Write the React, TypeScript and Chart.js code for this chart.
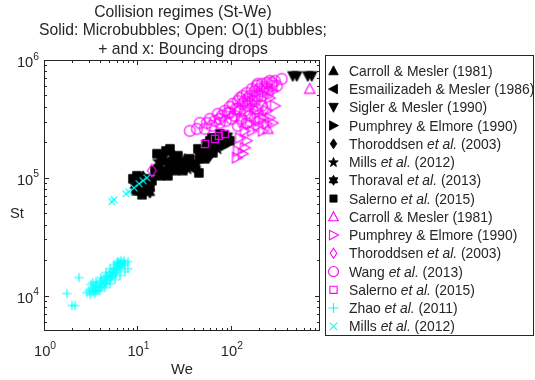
import React, { useEffect, useRef } from "react";
import { Chart, registerables } from "chart.js";
Chart.register(...registerables);

// ---------------- Data (We, St) ----------------
// Solid markers: microbubbles (black)
const carrollSolidWe = [17.4, 32.2, 65.8];
const carrollSolidSt = [126000, 145000, 206000];
const esmailWe = [12.6, 21.2, 42.2, 80.1];
const esmailSt = [90800, 139000, 115000, 214000];
const siglerWe = [25.8, 460, 508, 666, 735];
const siglerSt = [134000, 731000, 731000, 731000, 731000];
const pumphreySolidWe = [18.7, 46.6, 86.3];
const pumphreySolidSt = [154000, 139000, 187000];
const thoroddsenSolidWe = [11.5, 23.4, 59.6];
const thoroddsenSolidSt = [102000, 163000, 154000];
const millsSolidWe = [10.1, 16.6, 34.7, 72.6];
const millsSolidSt = [94400, 139000, 119000, 176000];
const thoravalWe = [9.4, 13.6, 19.7, 38.3, 92.9];
const thoravalSt = [85600, 74600, 110000, 134000, 227000];
const salernoSolidWe = [10.6, 11.7, 15.4, 20.2, 22.3, 28.5, 50.2, 55.4, 62.7, 76.3, 9.88, 14.3, 25.2, 52.7, 67.4, 97.6, 44.4, 17.4, 12.9,
  8.95, 9.64, 11.2, 12.3, 13.6, 10.6, 16.2, 18.3, 21.2, 24.0, 27.1, 22.3, 18.7, 16.6, 30.7, 36.4, 41.2, 45.5, 33.0,
  46.6, 54.0, 59.6, 70.8, 82.1, 90.6, 64.2, 56.8, 84.2];
const salernoSolidSt = [77600, 84000, 115000, 169000, 122000, 131000, 169000, 194000, 218000, 236000, 104000, 94400, 115000, 145000, 187000, 206000, 176000, 104000, 80700,
  98100, 77600, 71800, 98100, 84000, 89000, 160000, 115000, 104000, 139000, 154000, 176000, 139000, 119000, 115000, 145000, 126000, 110000, 131000,
  154000, 169000, 206000, 218000, 198000, 206000, 163000, 180000, 227000];

// Open markers: O(1) bubbles (magenta)
const carrollOpenWe = [700, 249];
const carrollOpenSt = [568000, 260000];
const pumphreyOpenWe = [116, 119, 134, 141, 148, 125, 220, 243, 261, 281, 220, 190, 160, 243, 261, 281, 168, 194, 141, 181, 204, 296];
const pumphreyOpenSt = [148000, 169000, 160000, 180000, 206000, 218000, 250000, 287000, 322000, 292000, 322000, 349000, 287000, 370000, 476000, 546000, 250000, 276000, 250000, 385000, 304000, 408000];
const thoroddsenOpenWe = [14.3, 125, 231];
const thoroddsenOpenSt = [115000, 304000, 385000];
const wangWe = [36.4, 43.3, 46.6, 55.4, 59.6, 67.4, 72.6, 80.1, 86.3, 92.9, 97.6, 105, 113, 119, 125, 134, 141, 148, 160, 168, 181, 190, 204, 215, 231, 243, 261, 296, 351, 275, 194, 152, 110, 88.4, 141, 168, 215, 52.7, 62.7, 76.3, 102, 125, 160, 249, 311, 181,
  119, 134, 181, 215, 97.6, 76.3, 152, 243, 275, 194, 131, 160, 185, 215, 119, 148, 181];
const wangSt = [250000, 260000, 292000, 292000, 316000, 304000, 349000, 335000, 370000, 356000, 400000, 424000, 385000, 449000, 476000, 495000, 449000, 525000, 495000, 568000, 546000, 603000, 568000, 627000, 590000, 639000, 664000, 664000, 690000, 603000, 495000, 408000, 335000, 304000, 370000, 449000, 495000, 260000, 276000, 292000, 316000, 370000, 424000, 525000, 603000, 449000,
  385000, 424000, 495000, 546000, 356000, 316000, 467000, 568000, 639000, 627000, 316000, 335000, 385000, 408000, 276000, 292000, 316000];
const salernoOpenWe = [52.7, 67.4, 74.4, 86.3];
const salernoOpenSt = [194000, 214000, 227000, 236000];

// Bouncing drops (cyan)
const zhaoWe = [1.76, 2.37, 1.99, 2.15, 3.34, 7.91, 6.04, 2.88, 3.03, 3.1, 3.26, 3.34, 3.51, 3.6, 3.69, 3.87, 3.97, 4.07, 4.17, 4.27, 4.38, 4.49, 4.6, 4.72, 4.84, 4.96, 5.08, 5.21, 5.34, 5.47, 5.61, 5.74, 5.89, 6.04, 6.18, 6.34, 6.5, 6.66, 6.83, 7.0, 7.17, 7.35, 6.66, 6.34, 3.78, 3.43, 4.6, 5.34, 5.89,
  3.18, 3.6, 4.07, 4.6, 5.08, 5.61, 6.18, 3.51, 3.97, 4.49, 5.08, 5.74, 6.5, 7.35, 7.91];
const zhaoSt = [10400, 14200, 8230, 8230, 12900, 19400, 19000, 10600, 11000, 10200, 11500, 10800, 11900, 11000, 12400, 11700, 12900, 11900, 13400, 12400, 13900, 12900, 14500, 13400, 14800, 13900, 15400, 14200, 16000, 15100, 16600, 15700, 17300, 16300, 18000, 16900, 18700, 17600, 19000, 18000, 19800, 18700, 19800, 19000, 11000, 11200, 12600, 14500, 15400,
  12400, 13100, 14200, 15700, 16900, 18300, 19400, 10400, 11000, 11700, 12600, 13700, 14800, 16000, 16900];
const millsOpenWe = [5.34, 5.61, 7.54, 8.11, 9.18, 10.4, 11.5, 12.6];
const millsOpenSt = [62700, 65100, 73200, 76000, 82200, 89000, 94400, 100000];

// Axis settings and text
const xMin = 1;
const xMax = 900;
const yMin = 5000;
const yMax = 1000000;
const xMajorTicks = [1, 10, 100];
const xTickExponents = ["0", "1", "2"];
const yMajorTicks = [10000, 100000, 1000000];
const yTickExponents = ["4", "5", "6"];
const titleLines = [
  "Collision regimes (St-We)",
  "Solid: Microbubbles; Open: O(1) bubbles;",
  "+ and x: Bouncing drops",
];
const xLabel = "We";
const yLabel = "St";

const legendLabels = [
  "Carroll & Mesler (1981)",
  "Esmailizadeh & Mesler (1986)",
  "Sigler & Mesler (1990)",
  "Pumphrey & Elmore (1990)",
  "Thoroddsen *et al.* (2003)",
  "Mills *et al.* (2012)",
  "Thoraval *et al.* (2013)",
  "Salerno *et al.* (2015)",
  "Carroll & Mesler (1981)",
  "Pumphrey & Elmore (1990)",
  "Thoroddsen *et al.* (2003)",
  "Wang *et al.* (2013)",
  "Salerno *et al.* (2015)",
  "Zhao *et al.* (2011)",
  "Mills *et al.* (2012)",
];

const FONT = '"Liberation Sans", Arial, Helvetica, sans-serif';
const TEXT = "#262626";
const AXIS = "#262626";
const BLACK = "#000000";
const MAGENTA = "#ff00ff";
const CYAN = "#00ffff";

type Shape = "up" | "down" | "left" | "right" | "diamond" | "pentagram" | "hexagram" | "square" | "circle" | "plus" | "x";

interface Series {
  we: number[];
  st: number[];
  shape: Shape;
  color: string;
  filled: boolean;
  r: number;
}

const series: Series[] = [
  { we: carrollSolidWe, st: carrollSolidSt, shape: "up", color: BLACK, filled: true, r: 5.5 },
  { we: esmailWe, st: esmailSt, shape: "left", color: BLACK, filled: true, r: 5.5 },
  { we: siglerWe, st: siglerSt, shape: "down", color: BLACK, filled: true, r: 5.5 },
  { we: pumphreySolidWe, st: pumphreySolidSt, shape: "right", color: BLACK, filled: true, r: 5.5 },
  { we: thoroddsenSolidWe, st: thoroddsenSolidSt, shape: "diamond", color: BLACK, filled: true, r: 6 },
  { we: millsSolidWe, st: millsSolidSt, shape: "pentagram", color: BLACK, filled: true, r: 5.5 },
  { we: thoravalWe, st: thoravalSt, shape: "hexagram", color: BLACK, filled: true, r: 5.5 },
  { we: salernoSolidWe, st: salernoSolidSt, shape: "square", color: BLACK, filled: true, r: 6 },
  { we: carrollOpenWe, st: carrollOpenSt, shape: "up", color: MAGENTA, filled: false, r: 5.5 },
  { we: pumphreyOpenWe, st: pumphreyOpenSt, shape: "right", color: MAGENTA, filled: false, r: 5.5 },
  { we: thoroddsenOpenWe, st: thoroddsenOpenSt, shape: "diamond", color: MAGENTA, filled: false, r: 6.5 },
  { we: wangWe, st: wangSt, shape: "circle", color: MAGENTA, filled: false, r: 5.4 },
  { we: salernoOpenWe, st: salernoOpenSt, shape: "square", color: MAGENTA, filled: false, r: 5 },
  { we: zhaoWe, st: zhaoSt, shape: "plus", color: CYAN, filled: false, r: 4.6 },
  { we: millsOpenWe, st: millsOpenSt, shape: "x", color: CYAN, filled: false, r: 4.6 },
];

function starPath(ctx: CanvasRenderingContext2D, cx: number, cy: number, n: number, ro: number, ri: number) {
  for (let i = 0; i < 2 * n; i++) {
    const ang = -Math.PI / 2 + (i * Math.PI) / n;
    const rr = i % 2 === 0 ? ro : ri;
    const px = cx + rr * Math.cos(ang);
    const py = cy + rr * Math.sin(ang);
    if (i === 0) ctx.moveTo(px, py);
    else ctx.lineTo(px, py);
  }
  ctx.closePath();
}

function drawShape(ctx: CanvasRenderingContext2D, shape: Shape, cx: number, cy: number, r: number, color: string, filled: boolean) {
  ctx.save();
  ctx.strokeStyle = color;
  ctx.fillStyle = color;
  ctx.lineWidth = 1.1;
  ctx.lineJoin = "miter";
  ctx.beginPath();
  const k = 0.8;
  switch (shape) {
    case "up":
      ctx.moveTo(cx, cy - r);
      ctx.lineTo(cx + r * 0.95, cy + r * k);
      ctx.lineTo(cx - r * 0.95, cy + r * k);
      ctx.closePath();
      break;
    case "down":
      ctx.moveTo(cx, cy + r);
      ctx.lineTo(cx + r * 0.95, cy - r * k);
      ctx.lineTo(cx - r * 0.95, cy - r * k);
      ctx.closePath();
      break;
    case "left":
      ctx.moveTo(cx - r, cy);
      ctx.lineTo(cx + r * k, cy - r * 0.95);
      ctx.lineTo(cx + r * k, cy + r * 0.95);
      ctx.closePath();
      break;
    case "right":
      ctx.moveTo(cx + r, cy);
      ctx.lineTo(cx - r * k, cy - r * 0.95);
      ctx.lineTo(cx - r * k, cy + r * 0.95);
      ctx.closePath();
      break;
    case "diamond":
      ctx.moveTo(cx, cy - r);
      ctx.lineTo(cx + r * 0.66, cy);
      ctx.lineTo(cx, cy + r);
      ctx.lineTo(cx - r * 0.66, cy);
      ctx.closePath();
      break;
    case "pentagram":
      starPath(ctx, cx, cy + r * 0.08, 5, r, r * 0.42);
      break;
    case "hexagram":
      starPath(ctx, cx, cy, 6, r, r * 0.6);
      break;
    case "square":
      ctx.rect(cx - r * 0.72, cy - r * 0.72, r * 1.44, r * 1.44);
      break;
    case "circle":
      ctx.arc(cx, cy, r, 0, Math.PI * 2);
      break;
    case "plus":
      ctx.moveTo(cx - r, cy);
      ctx.lineTo(cx + r, cy);
      ctx.moveTo(cx, cy - r);
      ctx.lineTo(cx, cy + r);
      break;
    case "x": {
      const d = r * 0.75;
      ctx.moveTo(cx - d, cy - d);
      ctx.lineTo(cx + d, cy + d);
      ctx.moveTo(cx - d, cy + d);
      ctx.lineTo(cx + d, cy - d);
      break;
    }
  }
  if (filled) {
    ctx.fill();
    ctx.lineWidth = 0.8;
    ctx.stroke();
  } else {
    ctx.stroke();
  }
  ctx.restore();
}

function makeMarker(shape: Shape, color: string, filled: boolean, r: number): HTMLCanvasElement {
  const c = document.createElement("canvas");
  const s = Math.ceil(2 * r + 4);
  c.width = s;
  c.height = s;
  const ctx = c.getContext("2d");
  if (ctx) drawShape(ctx, shape, s / 2, s / 2, r, color, filled);
  return c;
}

function drawPow(ctx: CanvasRenderingContext2D, exp: string, x: number, baseline: number, align: "center" | "right") {
  ctx.font = `14.7px ${FONT}`;
  const w10 = ctx.measureText("10").width;
  ctx.font = `10.3px ${FONT}`;
  const wExp = ctx.measureText(exp).width;
  const total = w10 + wExp;
  const start = align === "center" ? x - total / 2 : x - total;
  ctx.textAlign = "left";
  ctx.textBaseline = "alphabetic";
  ctx.fillStyle = TEXT;
  ctx.font = `14.7px ${FONT}`;
  ctx.fillText("10", start, baseline);
  ctx.font = `10.3px ${FONT}`;
  ctx.fillText(exp, start + w10, baseline - 7.5);
}

const decorPlugin = {
  id: "matlabDecor",
  afterDraw(chart: any) {
    const ctx: CanvasRenderingContext2D = chart.ctx;
    const a = chart.chartArea;
    const xs = chart.scales.x;
    const ys = chart.scales.y;
    ctx.save();
    const L = Math.round(a.left) + 0.5;
    const R = Math.round(a.right) - 0.5;
    const T = Math.round(a.top) + 0.5;
    const B = Math.round(a.bottom) - 0.5;
    ctx.strokeStyle = AXIS;
    ctx.lineWidth = 1;
    ctx.strokeRect(L, T, R - L, B - T);

    ctx.beginPath();
    for (let d = 1; d <= 1000; d *= 10) {
      for (let m = 1; m <= 9; m++) {
        const v = m * d;
        if (v < xMin || v > xMax) continue;
        const px = Math.round(xs.getPixelForValue(v)) + 0.5;
        if (px <= L + 0.1 || px >= R - 0.1) continue;
        const len = m === 1 ? 4.5 : 2.5;
        ctx.moveTo(px, B);
        ctx.lineTo(px, B - len);
        ctx.moveTo(px, T);
        ctx.lineTo(px, T + len);
      }
    }
    for (let d = 1000; d <= 1000000; d *= 10) {
      for (let m = 1; m <= 9; m++) {
        const v = m * d;
        if (v < yMin || v > yMax) continue;
        const py = Math.round(ys.getPixelForValue(v)) + 0.5;
        if (py <= T + 0.1 || py >= B - 0.1) continue;
        const len = m === 1 ? 4.5 : 2.5;
        ctx.moveTo(L, py);
        ctx.lineTo(L + len, py);
        ctx.moveTo(R, py);
        ctx.lineTo(R - len, py);
      }
    }
    ctx.stroke();

    xMajorTicks.forEach((v, i) => {
      const px = xs.getPixelForValue(v);
      drawPow(ctx, xTickExponents[i], px + 1, 356, "center");
    });
    yMajorTicks.forEach((v, i) => {
      const py = ys.getPixelForValue(v);
      drawPow(ctx, yTickExponents[i], 39, py + 7, "right");
    });

    ctx.fillStyle = TEXT;
    ctx.font = `14.7px ${FONT}`;
    ctx.textAlign = "center";
    ctx.textBaseline = "alphabetic";
    ctx.fillText(xLabel, (a.left + a.right) / 2, 374);
    ctx.fillText(yLabel, 17, 218);

    ctx.font = `15.7px ${FONT}`;
    titleLines.forEach((t, i) => {
      ctx.fillText(t, (a.left + a.right) / 2 + 1, 16.5 + i * 18.5);
    });

    const lx0 = 325.5;
    const ly0 = 55.5;
    const lx1 = 533.5;
    const ly1 = 335.5;
    ctx.fillStyle = "#ffffff";
    ctx.fillRect(lx0, ly0, lx1 - lx0, ly1 - ly0);
    ctx.strokeStyle = AXIS;
    ctx.lineWidth = 1;
    ctx.strokeRect(lx0, ly0, lx1 - lx0, ly1 - ly0);
    ctx.textAlign = "left";
    legendLabels.forEach((lab, i) => {
      const cy = 70.8 + i * 18.25;
      const s = series[i];
      drawShape(ctx, s.shape, 333.5, cy, 5, s.color, s.filled);
      const parts = lab.split("*");
      let x = 349;
      parts.forEach((p, j) => {
        if (!p) return;
        ctx.font = `${j % 2 === 1 ? "italic " : ""}13.9px ${FONT}`;
        ctx.fillStyle = TEXT;
        ctx.fillText(p, x, cy + 5);
        x += ctx.measureText(p).width;
      });
    });
    ctx.restore();
  },
};

export default function App() {
  const ref = useRef<HTMLCanvasElement | null>(null);
  useEffect(() => {
    if (!ref.current) return;
    const N = series.length;
    const datasets = series.map((s, i) => ({
      label: legendLabels[i],
      data: s.we.map((w, j) => ({ x: w, y: s.st[j] })),
      pointStyle: makeMarker(s.shape, s.color, s.filled, s.r),
      pointRadius: s.r,
      pointHoverRadius: s.r,
      showLine: false,
      order: N - i,
      clip: 0,
    }));
    const chart = new Chart(ref.current, {
      type: "scatter",
      data: { datasets } as any,
      options: {
        animation: false,
        responsive: false,
        devicePixelRatio: 1,
        events: [],
        layout: { padding: { left: 44, top: 60, right: 215, bottom: 49 } },
        scales: {
          x: { type: "logarithmic", min: xMin, max: xMax, display: false },
          y: { type: "logarithmic", min: yMin, max: yMax, display: false },
        },
        plugins: { legend: { display: false }, tooltip: { enabled: false }, title: { display: false } },
      } as any,
      plugins: [decorPlugin],
    });
    return () => chart.destroy();
  }, []);
  return (
    <div style={{ position: "fixed", left: 0, top: 0, width: 535, height: 380, background: "#fff" }}>
      <canvas ref={ref} width={535} height={380} style={{ display: "block", width: 535, height: 380 }} />
    </div>
  );
}
